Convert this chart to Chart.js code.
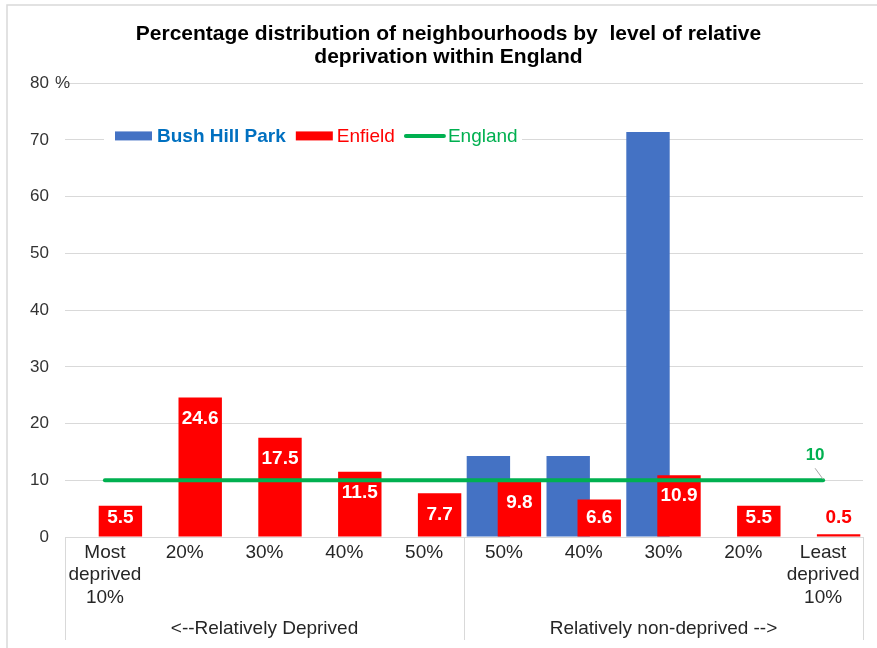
<!DOCTYPE html>
<html>
<head>
<meta charset="utf-8">
<script src="https://cdn.jsdelivr.net/npm/chart.js@4.4.1/dist/chart.umd.min.js"></script>
<style>
  html, body { margin: 0; padding: 0; background: #ffffff; }
  canvas { display: block; }
</style>
</head>
<body>
<canvas id="c" width="877" height="648"></canvas>
<script>
// ---- Data ----
const categories = [
  ['Most', 'deprived', '10%'], '20%', '30%', '40%', '50%',
  '50%', '40%', '30%', '20%', ['Least', 'deprived', '10%']
];
const groupLabels = ['<--Relatively Deprived', 'Relatively non-deprived -->'];
const groupSizes = [5, 5];
const bushHillPark = [0, 0, 0, 0, 0, 14.3, 14.3, 71.4, 0, 0];
const enfield = [5.5, 24.6, 17.5, 11.5, 7.7, 9.8, 6.6, 10.9, 5.5, 0.5];
const england = [10, 10, 10, 10, 10, 10, 10, 10, 10, 10];
const seriesNames = ['Bush Hill Park', 'Enfield', 'England'];
const titleLines = ['Percentage distribution of neighbourhoods by  level of relative', 'deprivation within England'];
const yTicks = [0, 10, 20, 30, 40, 50, 60, 70, 80];

const FONT = "'Liberation Sans', Arial, Helvetica, sans-serif";
const BLUE = '#4472C4', RED = '#FF0000', GREEN = '#00B050';
const GRID = '#D9D9D9';

// shift the title block to be centred over the plot
const titleShiftPlugin = {
  id: 'titleShift',
  afterLayout(chart) {
    const t = chart.titleBlock;
    if (t) { t.left += 17; t.right += 17; }
  }
};

// draw datasets in order: blue bars, red bars, green line
const drawOrderPlugin = {
  id: 'drawOrder',
  beforeDatasetsDraw(chart) {
    const ctx = chart.ctx, a = chart.chartArea;
    ctx.save();
    ctx.beginPath();
    ctx.rect(a.left, a.top - 6, a.right - a.left, a.bottom - a.top + 6);
    ctx.clip();
    [0, 1, 2].forEach(i => {
      const m = chart.getDatasetMeta(i);
      if (!m.hidden) m.controller.draw();
    });
    ctx.restore();
    return false;
  }
};

const decorPlugin = {
  id: 'decor',
  beforeDraw(chart) {
    const ctx = chart.ctx;
    ctx.save();
    ctx.fillStyle = '#ffffff';
    ctx.fillRect(0, 0, chart.width, chart.height);
    ctx.strokeStyle = GRID;
    ctx.lineWidth = 1.5;
    ctx.beginPath();
    ctx.moveTo(7, chart.height + 2);
    ctx.lineTo(7, 5);
    ctx.lineTo(chart.width + 2, 5);
    ctx.stroke();
    ctx.restore();
  },
  afterDraw(chart) {
    const ctx = chart.ctx, a = chart.chartArea;
    const xs = chart.scales.x, ys = chart.scales.y;
    ctx.save();

    // "%" after top tick
    ctx.font = '17px ' + FONT;
    ctx.fillStyle = '#333333';
    ctx.textAlign = 'left';
    ctx.textBaseline = 'middle';
    ctx.fillText('%', 55, ys.getPixelForValue(80));

    // group separators & labels
    const catW = (xs.right - xs.left) / categories.length;
    ctx.strokeStyle = GRID;
    ctx.lineWidth = 1;
    let idx = 0;
    const bounds = [xs.left];
    groupSizes.forEach(n => { idx += n; bounds.push(xs.left + idx * catW); });
    bounds.forEach(bx => {
      const px = Math.round(bx) + 0.5;
      ctx.beginPath();
      ctx.moveTo(px, a.bottom);
      ctx.lineTo(px, 640);
      ctx.stroke();
    });
    ctx.font = '19px ' + FONT;
    ctx.fillStyle = '#262626';
    ctx.textAlign = 'center';
    groupLabels.forEach((g, i) => {
      ctx.fillText(g, (bounds[i] + bounds[i + 1]) / 2, 629);
    });

    // data labels for Enfield
    const redMeta = chart.getDatasetMeta(1);
    ctx.font = 'bold 19px ' + FONT;
    redMeta.data.forEach((el, i) => {
      const top = el.y, base = el.base;
      const y = Math.min(top + 21, base - 19);
      ctx.fillStyle = (base - top) > 20 ? '#ffffff' : RED;
      ctx.fillText(String(enfield[i]), el.x, y);
    });

    // England label with leader line
    const lineMeta = chart.getDatasetMeta(2);
    const last = lineMeta.data[lineMeta.data.length - 1];
    ctx.strokeStyle = '#A6A6A6';
    ctx.lineWidth = 1;
    ctx.beginPath();
    ctx.moveTo(last.x - 8, last.y - 12);
    ctx.lineTo(last.x, last.y - 1);
    ctx.stroke();
    ctx.font = 'bold 17px ' + FONT;
    ctx.fillStyle = GREEN;
    ctx.fillText(String(england[england.length - 1]), last.x - 8, last.y - 25);

    // legend
    const ly = ys.getPixelForValue(70) - 4;
    ctx.fillStyle = '#ffffff';
    ctx.fillRect(104, ly - 12, 418, 24);
    let x = 115;
    ctx.textAlign = 'left';
    // Bush Hill Park
    ctx.fillStyle = BLUE;
    ctx.fillRect(x, ly - 4.5, 37, 9);
    x += 42;
    ctx.font = 'bold 19px ' + FONT;
    ctx.fillStyle = '#0070C0';
    ctx.fillText(seriesNames[0], x, ly + 1);
    x += ctx.measureText(seriesNames[0]).width + 10;
    // Enfield
    ctx.fillStyle = RED;
    ctx.fillRect(x, ly - 4.5, 37, 9);
    x += 41;
    ctx.font = '19px ' + FONT;
    ctx.fillText(seriesNames[1], x, ly + 1);
    x += ctx.measureText(seriesNames[1]).width + 9;
    // England
    ctx.strokeStyle = GREEN;
    ctx.lineWidth = 4;
    ctx.lineCap = 'round';
    ctx.beginPath();
    ctx.moveTo(x + 2, ly);
    ctx.lineTo(x + 40, ly);
    ctx.stroke();
    x += 44;
    ctx.fillStyle = GREEN;
    ctx.fillText(seriesNames[2], x, ly + 1);

    ctx.restore();
  }
};

new Chart(document.getElementById('c'), {
  type: 'bar',
  data: {
    labels: categories,
    datasets: [
      {
        label: seriesNames[0],
        data: bushHillPark,
        backgroundColor: BLUE,
        borderWidth: 0,
        categoryPercentage: 0.777,
        barPercentage: 1.4
      },
      {
        label: seriesNames[1],
        data: enfield,
        backgroundColor: RED,
        borderWidth: 0,
        categoryPercentage: 0.777,
        barPercentage: 1.4
      },
      {
        type: 'line',
        label: seriesNames[2],
        data: england,
        borderColor: GREEN,
        borderWidth: 4,
        pointRadius: 0,
        tension: 0,
        borderCapStyle: 'round'
      }
    ]
  },
  options: {
    responsive: false,
    animation: false,
    layout: { padding: { left: 0, right: 14, top: 0, bottom: 0 } },
    plugins: {
      legend: { display: false },
      tooltip: { enabled: false },
      title: {
        display: true,
        text: titleLines,
        color: '#000000',
        font: { family: FONT, size: 21, weight: 'bold', lineHeight: 1.1 },
        padding: { top: 23, bottom: 14 }
      }
    },
    scales: {
      x: {
        offset: true,
        grid: { display: false, drawTicks: false },
        border: { display: true, color: GRID, width: 1 },
        ticks: {
          color: '#262626',
          font: { family: FONT, size: 19, lineHeight: 1.2 },
          padding: 4,
          maxRotation: 0,
          autoSkip: false
        },
        afterFit(scale) { scale.height = 111; }
      },
      y: {
        min: 0,
        max: 80,
        afterBuildTicks(scale) { scale.ticks = yTicks.map(v => ({ value: v })); },
        grid: { color: GRID, lineWidth: 1, drawTicks: false },
        border: { display: false },
        ticks: {
          color: '#333333',
          font: { family: FONT, size: 17 },
          padding: 16
        },
        afterFit(scale) { scale.width = 65; }
      }
    }
  },
  plugins: [titleShiftPlugin, decorPlugin, drawOrderPlugin]
});
</script>
</body>
</html>
